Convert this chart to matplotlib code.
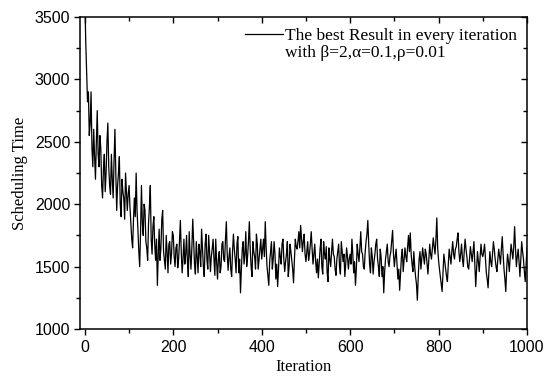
import numpy as np
import matplotlib
matplotlib.use("Agg")
import matplotlib.pyplot as plt
from matplotlib.lines import Line2D
from matplotlib.ticker import MultipleLocator

iter_step = 2
seg_000 = [3650, 3300, 3050, 2820, 2900, 2550, 2650, 2900, 2450, 2300,
           2600, 2380, 2200, 2500, 2750, 2400, 2300, 2550, 2450, 2150,
           2050, 2280, 2400, 2100, 2250, 2500, 2650, 2300, 2150, 2080,
           2400, 2200, 2050, 2350, 2600, 2250, 1950, 2150, 2250, 2380,
           2000, 1900, 2200, 2100, 2050, 1880, 2250, 2100, 1950, 2080]
seg_100 = [2150, 1980, 1850, 1720, 1650, 1880, 2050, 1900, 2250, 1950,
           1800, 1620, 1500, 1780, 2150, 1850, 1750, 2000, 1950, 1700,
           1650, 1550, 1850, 1980, 2150, 1720, 1600, 1820, 1900, 1680,
           1550, 1720, 1350, 1600, 1800, 1550, 1650, 1880, 1950, 1620,
           1550, 1480, 1750, 1620, 1450, 1680, 1700, 1520, 1600, 1780]
seg_200 = [1750, 1580, 1500, 1650, 1680, 1490, 1560, 1700, 1870, 1620,
           1450, 1560, 1720, 1520, 1600, 1750, 1540, 1420, 1780, 1600,
           1480, 1650, 1880, 1700, 1520, 1440, 1700, 1580, 1450, 1680,
           1620, 1500, 1800, 1650, 1500, 1420, 1680, 1760, 1560, 1480,
           1750, 1620, 1460, 1580, 1640, 1720, 1560, 1430, 1720, 1540]
seg_300 = [1400, 1560, 1620, 1450, 1500, 1680, 1700, 1560, 1540, 1720,
           1860, 1600, 1470, 1580, 1650, 1480, 1420, 1620, 1760, 1640,
           1560, 1450, 1680, 1740, 1450, 1560, 1290, 1480, 1640, 1700,
           1520, 1600, 1780, 1500, 1580, 1700, 1860, 1640, 1500, 1420,
           1700, 1620, 1580, 1480, 1760, 1680, 1480, 1560, 1650, 1720]
seg_400 = [1560, 1640, 1720, 1580, 1860, 1650, 1500, 1420, 1350, 1540,
           1620, 1700, 1480, 1560, 1700, 1600, 1400, 1520, 1340, 1480,
           1650, 1580, 1520, 1680, 1720, 1560, 1460, 1540, 1600, 1700,
           1420, 1500, 1680, 1620, 1550, 1480, 1370, 1560, 1720, 1660,
           1640, 1700, 1780, 1650, 1830, 1720, 1620, 1700, 1760, 1600]
seg_500 = [1540, 1620, 1700, 1550, 1600, 1680, 1780, 1640, 1520, 1600,
           1680, 1540, 1450, 1560, 1410, 1520, 1640, 1720, 1500, 1440,
           1700, 1600, 1560, 1660, 1450, 1380, 1650, 1560, 1500, 1620,
           1720, 1600, 1580, 1480, 1430, 1560, 1620, 1680, 1500, 1440,
           1700, 1620, 1540, 1600, 1420, 1520, 1650, 1580, 1480, 1560]
seg_600 = [1600, 1520, 1720, 1600, 1450, 1540, 1350, 1480, 1680, 1600,
           1540, 1650, 1780, 1620, 1600, 1500, 1480, 1620, 1700, 1760,
           1870, 1680, 1520, 1450, 1650, 1580, 1440, 1540, 1600, 1680,
           1720, 1560, 1500, 1420, 1640, 1580, 1420, 1500, 1290, 1460,
           1560, 1620, 1680, 1540, 1500, 1580, 1620, 1700, 1790, 1600]
seg_700 = [1500, 1580, 1640, 1520, 1400, 1480, 1310, 1450, 1580, 1640,
           1460, 1560, 1650, 1580, 1540, 1660, 1750, 1620, 1770, 1600,
           1520, 1460, 1620, 1500, 1420, 1360, 1230, 1420, 1560, 1620,
           1480, 1560, 1650, 1580, 1520, 1640, 1600, 1520, 1440, 1560,
           1680, 1600, 1560, 1640, 1730, 1660, 1600, 1720, 1890, 1650]
seg_800 = [1550, 1480, 1420, 1360, 1300, 1460, 1600, 1540, 1480, 1420,
           1380, 1520, 1640, 1580, 1520, 1620, 1700, 1600, 1560, 1640,
           1660, 1720, 1770, 1620, 1540, 1600, 1680, 1560, 1500, 1620,
           1720, 1640, 1580, 1500, 1480, 1560, 1660, 1600, 1540, 1620,
           1700, 1520, 1340, 1480, 1620, 1540, 1460, 1580, 1680, 1600]
seg_900 = [1580, 1620, 1680, 1560, 1450, 1400, 1330, 1480, 1620, 1540,
           1500, 1600, 1700, 1640, 1560, 1500, 1460, 1560, 1640, 1580,
           1520, 1640, 1740, 1600, 1480, 1400, 1300, 1480, 1600, 1540,
           1460, 1580, 1680, 1620, 1560, 1660, 1820, 1640, 1500, 1580,
           1640, 1540, 1420, 1560, 1700, 1620, 1560, 1460, 1380, 1520,
           1650]

scheduling_time = (seg_000 + seg_100 + seg_200 + seg_300 + seg_400 + seg_500 +
                   seg_600 + seg_700 + seg_800 + seg_900)
iterations = [i * iter_step for i in range(len(scheduling_time))]

legend_line1 = "The best Result in every iteration"
legend_line2 = "with \u03b2=2,\u03b1=0.1,\u03c1=0.01"
x_ticks = [0, 200, 400, 600, 800, 1000]
y_ticks = [1000, 1500, 2000, 2500, 3000, 3500]

fig = plt.figure(figsize=(5.46, 3.78), dpi=100)
ax = fig.add_axes([80/546, 49/378, 447/546, 312/378])

line, = ax.plot(iterations, scheduling_time, color="black", lw=0.9)

ax.set_xlim(-11, 1000)
ax.set_ylim(1000, 3500)
ax.set_xticks(x_ticks)
ax.set_yticks(y_ticks)
ax.xaxis.set_minor_locator(MultipleLocator(100))
ax.yaxis.set_minor_locator(MultipleLocator(250))

for sp in ax.spines.values():
    sp.set_linewidth(1.1)

ax.tick_params(which="both", direction="out", top=True, right=True, width=1.0)
ax.tick_params(which="major", length=4)
ax.tick_params(which="minor", length=3)
for lab in ax.get_xticklabels() + ax.get_yticklabels():
    lab.set_fontfamily("Liberation Sans")
    lab.set_fontsize(11.5)
ax.tick_params(axis="x", pad=4)
ax.tick_params(axis="y", pad=3)

# top/right ticks pointing inward
for t in ax.xaxis.get_major_ticks() + ax.xaxis.get_minor_ticks():
    t.tick2line.set_marker(matplotlib.lines.TICKDOWN)
for t in ax.yaxis.get_major_ticks() + ax.yaxis.get_minor_ticks():
    t.tick2line.set_marker(matplotlib.lines.TICKLEFT)

ax.set_xlabel("Iteration", fontfamily="Liberation Serif", fontsize=12, labelpad=3)
ax.set_ylabel("Scheduling Time", fontfamily="Liberation Serif", fontsize=12, labelpad=5)

blank = Line2D([], [], color="none")
ax.legend([line, blank], [legend_line1, legend_line2], loc="upper right",
          bbox_to_anchor=(1.0, 0.995), frameon=False, handlelength=2.2,
          handletextpad=0.15, labelspacing=0.05, borderaxespad=0.15,
          prop={"family": "Liberation Serif", "size": 12.5})

fig.savefig("out.png", dpi=100)
